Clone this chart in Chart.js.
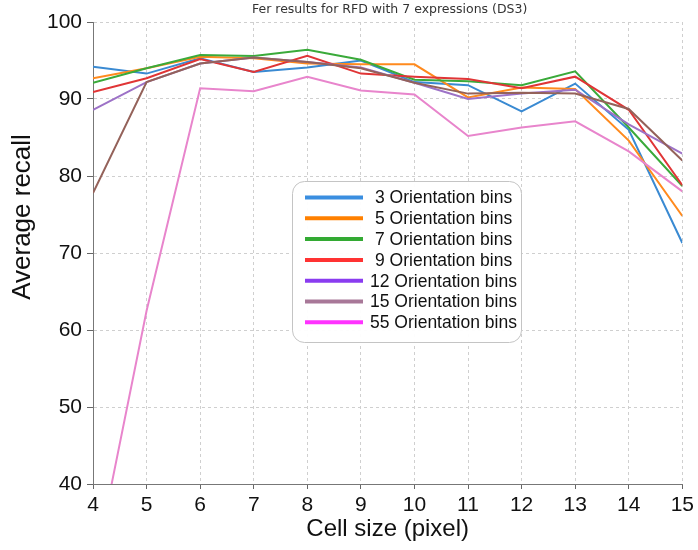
<!DOCTYPE html>
<html>
<head>
<meta charset="utf-8">
<script src="https://cdn.jsdelivr.net/npm/chart.js@4/dist/chart.umd.min.js"></script>
<style>
  html, body { margin: 0; padding: 0; background: #fff; }
  #wrap { width: 698px; height: 550px; position: relative; }
</style>
</head>
<body>
<div id="wrap"><canvas id="recallChart"></canvas></div>
<script>
const cellSizes = [4, 5, 6, 7, 8, 9, 10, 11, 12, 13, 14, 15];
const yTicks = [40, 50, 60, 70, 80, 90, 100];

const bins3  = [94.2, 93.3, 95.3, 93.5, 94.1, 95.0, 92.2, 91.8, 88.4, 92.0, 86.0, 71.3];
const bins5  = [92.7, 94.0, 95.5, 95.3, 94.6, 94.5, 94.5, 90.2, 91.5, 91.3, 84.6, 74.8];
const bins7  = [92.1, 94.0, 95.7, 95.6, 96.4, 95.1, 92.5, 92.3, 91.8, 93.6, 86.3, 78.7];
const bins9  = [90.9, 92.7, 95.2, 93.5, 95.6, 93.3, 92.9, 92.6, 91.4, 92.9, 88.6, 78.8];
const bins12 = [88.6, 92.2, 94.6, 95.4, 94.8, 94.1, 92.1, 90.0, 90.7, 91.2, 86.7, 82.9];
const bins15 = [77.8, 92.2, 94.6, 95.4, 94.8, 94.0, 92.1, 90.7, 90.8, 90.7, 88.7, 82.0];
const bins55 = [28.0, 62.5, 91.4, 91.0, 92.9, 91.1, 90.6, 85.2, 86.3, 87.1, 83.2, 78.0];

const seriesNames = ["3 Orientation bins", "5 Orientation bins", "7 Orientation bins", "9 Orientation bins",
                     "12 Orientation bins", "15 Orientation bins", "55 Orientation bins"];
const seriesValues = [bins3, bins5, bins7, bins9, bins12, bins15, bins55];
const lineColors = ["#3a8ad2", "#ff8a1e", "#3aaa3a", "#e03536", "#9d72c7", "#94625a", "#e885cc"];
const legendColors = ["#3a8ee0", "#ff8000", "#33aa33", "#ff3333", "#8a3cf0", "#a87898", "#ff33ff"];

const chartTitle = "Fer results for RFD with 7 expressions (DS3)";
const yTitle = "Average recall";
const sans = '"Liberation Sans", Arial, sans-serif';

// small grey title over the plot area, plus the y label (sits a bit above the axis middle)
const textPlugin = {
    id: 'plotText',
    afterDraw(chart) {
        const { ctx, chartArea } = chart;
        ctx.save();
        ctx.font = '12.5px "DejaVu Sans"';
        ctx.fillStyle = '#333';
        ctx.textAlign = 'center';
        ctx.textBaseline = 'middle';
        ctx.fillText(chartTitle, (chartArea.left + chartArea.right) / 2 + 2, 10);

        ctx.translate(23, 217);
        ctx.rotate(-Math.PI / 2);
        ctx.font = '26px ' + sans;
        ctx.fillStyle = '#111';
        ctx.fillText(yTitle, 0, 0);
        ctx.restore();
    }
};

// rounded legend box inside the plot
const boxLegend = {
    id: 'boxLegend',
    afterDatasetsDraw(chart) {
        const ctx = chart.ctx;
        const bx = 292, by = 181, bw = 229, bh = 161;
        ctx.save();
        ctx.beginPath();
        ctx.roundRect(bx + 0.5, by + 0.5, bw, bh, 12);
        ctx.fillStyle = 'rgba(255,255,255,0.95)';
        ctx.fill();
        ctx.strokeStyle = '#c4c4c4';
        ctx.lineWidth = 1;
        ctx.stroke();
        ctx.font = '17.5px ' + sans;
        ctx.textBaseline = 'middle';
        ctx.fillStyle = '#111';
        chart.data.datasets.forEach((ds, i) => {
            const y = 197.5 + i * 20.8;
            ctx.beginPath();
            ctx.moveTo(305, y);
            ctx.lineTo(363, y);
            ctx.strokeStyle = legendColors[i];
            ctx.lineWidth = 4;
            ctx.stroke();
            ctx.fillText(ds.label, ds.label.length > 18 ? 370 : 375, y + 1);
        });
        ctx.restore();
    }
};

const datasets = seriesNames.map((name, i) => ({
    label: name,
    data: cellSizes.map((c, j) => ({ x: c, y: seriesValues[i][j] })),
    borderColor: lineColors[i],
    backgroundColor: lineColors[i],
    borderWidth: 2,
    pointRadius: 0,
    tension: 0,
    order: -i
}));

const tickFont = { family: sans, size: 21 };
const gridStyle = { color: '#cfcfcf', tickColor: '#666', tickBorderDash: [], lineWidth: 1 };
const axisBorder = { color: '#777', width: 1, dash: [3, 3] };

new Chart(document.getElementById('recallChart'), {
    type: 'line',
    data: { datasets },
    options: {
        responsive: true,
        maintainAspectRatio: false,
        animation: false,
        events: [],
        layout: { padding: { top: 22, right: 14, bottom: 0, left: 0 } },
        plugins: { legend: { display: false }, title: { display: false }, tooltip: { enabled: false } },
        scales: {
            x: {
                type: 'linear',
                min: cellSizes[0],
                max: cellSizes[cellSizes.length - 1],
                afterBuildTicks: s => { s.ticks = cellSizes.map(v => ({ value: v })); },
                afterFit: s => { s.height = 66; },
                ticks: { font: tickFont, color: '#111', padding: 4 },
                grid: { ...gridStyle, tickLength: 5 },
                border: axisBorder,
                title: { display: true, text: 'Cell size (pixel)', font: { family: sans, size: 24 }, color: '#111', padding: { top: 0, bottom: 6 } }
            },
            y: {
                min: yTicks[0],
                max: yTicks[yTicks.length - 1],
                afterBuildTicks: s => { s.ticks = yTicks.map(v => ({ value: v })); },
                afterFit: s => { s.width = 93; },
                ticks: { font: tickFont, color: '#111', padding: 5 },
                grid: { ...gridStyle, tickLength: 6 },
                border: axisBorder
            }
        }
    },
    plugins: [textPlugin, boxLegend]
});
</script>
</body>
</html>
